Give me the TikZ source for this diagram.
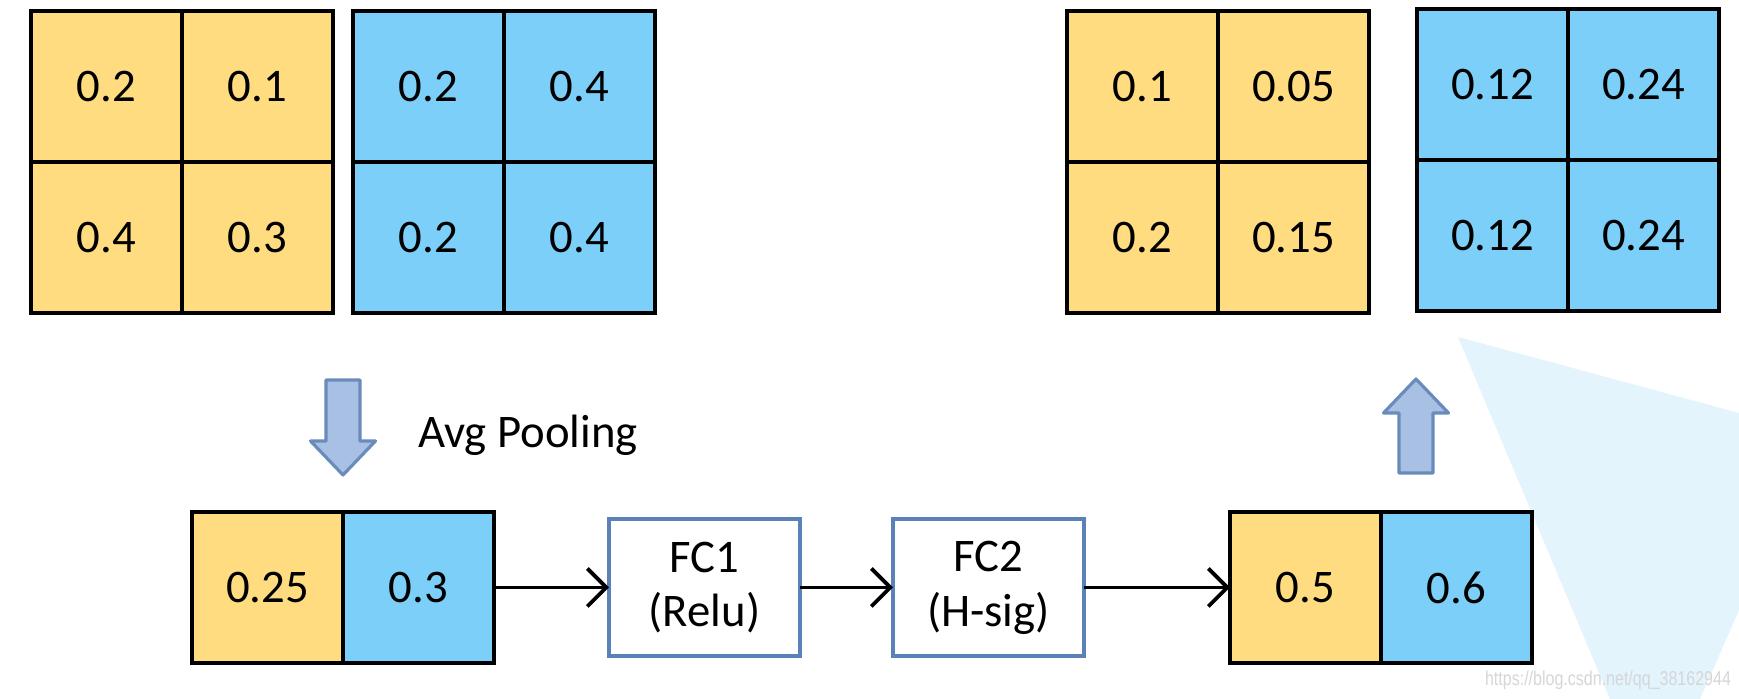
\documentclass[tikz,border=0pt]{standalone}
\usepackage{fontspec}
\setmainfont{Carlito}
\newfontfamily\wmfont{Liberation Sans}
\usetikzlibrary{positioning,arrows.meta}

\definecolor{cellyellow}{HTML}{FFDC7F}
\definecolor{cellblue}{HTML}{7BCFF8}
\definecolor{fcblue}{HTML}{5B82B8}
\definecolor{arrowfill}{HTML}{A7C0E3}
\definecolor{arrowdraw}{HTML}{6A8BBB}
\definecolor{bgshade}{HTML}{E3F4FD}

\begin{document}
\begin{tikzpicture}[
    x=0.1mm, y=-0.1mm,
    node distance=0pt,
    font=\fontsize{13.3}{15.6}\selectfont,
    cell/.style={rectangle, draw, line width=1.1pt, minimum size=15.1mm, inner sep=0pt, outer sep=0pt},
    ycell/.style={cell, fill=cellyellow},
    bcell/.style={cell, fill=cellblue},
    fc/.style={rectangle, draw=fcblue, line width=0.9pt, fill=white, align=center, minimum width=19.1mm, minimum height=13.7mm, outer sep=0pt},
    blockarrow/.style={fill=arrowfill, draw=arrowdraw, line width=0.9pt, line join=round},
    arrow/.style={-{Straight Barb[length=1.9mm,width=3.8mm]}, line width=1.1pt}
]
    \useasboundingbox (0,0) rectangle (1739,699);
    \fill[white] (0,0) rectangle (1739,699);
    \fill[bgshade] (1458,337) -- (1739,413) -- (1739,610) -- (1700,699) -- (1610,699) -- cycle;

    % input feature maps
    \node[ycell] (ya) at (106.5,86.5) {0.2};
    \node[ycell, right=of ya] (yb) {0.1};
    \node[ycell, below=of ya] (yc) {0.4};
    \node[ycell, right=of yc] (yd) {0.3};

    \node[bcell] (ba) at (428.5,86.5) {0.2};
    \node[bcell, right=of ba] (bb) {0.4};
    \node[bcell, below=of ba] (bc) {0.2};
    \node[bcell, right=of bc] (bd) {0.4};

    % output feature maps
    \node[ycell] (oya) at (1142.5,86.5) {0.1};
    \node[ycell, right=of oya] (oyb) {0.05};
    \node[ycell, below=of oya] (oyc) {0.2};
    \node[ycell, right=of oyc] (oyd) {0.15};

    \node[bcell] (oba) at (1492.5,84.5) {0.12};
    \node[bcell, right=of oba] (obb) {0.24};
    \node[bcell, below=of oba] (obc) {0.12};
    \node[bcell, right=of obc] (obd) {0.24};

    % pooled vector and FC layers
    \node[ycell] (pa) at (267.5,587.5) {0.25};
    \node[bcell, right=of pa] (pb) {0.3};
    \node[fc, right=11.5mm of pb] (fc1) {FC1\\(Relu)};
    \node[fc, right=9.3mm of fc1] (fc2) {FC2\\(H-sig)};
    \node[ycell, right=14.6mm of fc2] (sa) {0.5};
    \node[bcell, right=of sa] (sb) {0.6};

    \draw[blockarrow] (326,380) -- (360,380) -- (360,441) -- (375.5,441) -- (343,475) -- (310.5,441) -- (326,441) -- cycle;
    \node (pool) at (528,435) {Avg Pooling};
    \draw[blockarrow] (1399,473) -- (1433,473) -- (1433,413) -- (1448.5,413) -- (1416,379) -- (1383.5,413) -- (1399,413) -- cycle;

    \draw[arrow] (pb) -- (fc1);
    \draw[arrow] (fc1) -- (fc2);
    \draw[arrow] (fc2) -- (sa);

    \node[text=black!16, font=\wmfont\fontsize{5.7}{7}\selectfont] (wm) at (1608,680) {\scalebox{0.8}[1]{https://blog.csdn.net/qq\_38162944}};
\end{tikzpicture}
\end{document}
